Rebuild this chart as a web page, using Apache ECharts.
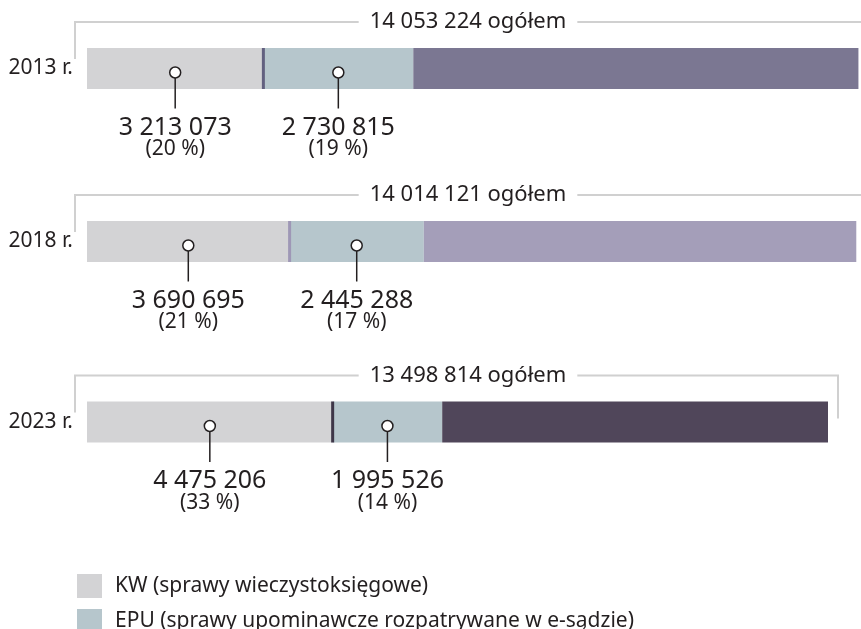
<!DOCTYPE html>
<html>
<head>
<meta charset="utf-8">
<script src="https://cdn.jsdelivr.net/npm/echarts@6/dist/echarts.min.js"></script>
<style>
  html, body { margin: 0; padding: 0; background: #fff; }
  #chart { width: 861px; height: 629px; }
</style>
</head>
<body>
<div id="chart"></div>
<script>
// dane
const years = ['2013 r.', '2018 r.', '2023 r.'];
const totals = [14053224, 14014121, 13498814];
const kwValues = [3213073, 3690695, 4475206];
const epuValues = [2730815, 2445288, 1995526];
const kwPct = [20, 21, 33];
const epuPct = [19, 17, 14];

const kwName = 'KW (sprawy wieczystoksięgowe)';
const epuName = 'EPU (sprawy upominawcze rozpatrywane w e-sądzie)';

// kolory
const kwColor = '#d3d3d5';
const epuColor = '#b6c6cc';
const restColors = ['#7b7792', '#a49eb9', '#50465a'];
const sepColors = ['#62607f', '#9e97b6', '#3e3648'];
const textColor = '#231f20';
const font = '"Noto Sans", sans-serif';

// środki pasków (px)
const barCenters = [68.5, 241.5, 422];

function fmt(n) {
  return String(n).replace(/\B(?=(\d{3})+(?!\d))/g, ' ');
}

function renderCallout(params, api) {
  const p = api.coord([api.value(0), 0]);
  const cx = p[0], cy = p[1] + 4;
  return {
    type: 'group',
    children: [
      { type: 'line', shape: { x1: cx, y1: cy + 5, x2: cx, y2: cy + 36 }, style: { stroke: textColor, lineWidth: 1.5 } },
      { type: 'circle', shape: { cx: cx, cy: cy, r: 5.5 }, style: { fill: '#fff', stroke: textColor, lineWidth: 1.5 } },
      { type: 'text', style: { text: fmt(api.value(2)), x: cx, y: cy + 55, align: 'center', verticalAlign: 'middle', font: '25px ' + font, fill: textColor } },
      { type: 'text', style: { text: '(' + api.value(3) + ' %)', x: cx, y: cy + 77, align: 'center', verticalAlign: 'middle', font: '21px ' + font, fill: textColor } }
    ]
  };
}

function renderBracket(params, api) {
  const p0 = api.coord([0, 0]);
  const p1 = api.coord([api.value(0), 0]);
  const W = api.getWidth();
  const x0 = p0[0] - 12;
  const x1 = p1[0] + 10;
  const top = p0[1] - 20.5 - 26;
  return {
    type: 'group',
    children: [
      { type: 'polyline', shape: { points: [[x0, top + 37], [x0, top], [x1, top], [x1, top + 43]] }, style: { stroke: '#d0d0d0', lineWidth: 2, fill: null } },
      { type: 'text', style: { text: fmt(api.value(0)) + ' ogółem', x: (x0 + W) / 2, y: top, align: 'center', verticalAlign: 'middle', font: '22px ' + font, fill: textColor, backgroundColor: '#fff', padding: [2, 11] } }
    ]
  };
}

const grids = [], xAxes = [], yAxes = [], series = [];
years.forEach(function (yr, i) {
  grids.push({ left: 87, right: 0, top: barCenters[i] - 30, height: 60 });
  xAxes.push({ gridIndex: i, type: 'value', min: 0, max: 14100000, show: false });
  yAxes.push({
    gridIndex: i, type: 'category', data: [yr],
    axisLine: { show: false }, axisTick: { show: false },
    axisLabel: { fontSize: 21, color: textColor, fontFamily: font, margin: 14 }
  });
  const rest = totals[i] - kwValues[i] - epuValues[i];
  const common = { type: 'bar', xAxisIndex: i, yAxisIndex: i, stack: 's' + i, barWidth: 41 };
  series.push(Object.assign({ name: kwName, data: [kwValues[i]], itemStyle: { color: kwColor } }, common));
  series.push(Object.assign({ name: epuName, data: [epuValues[i]], itemStyle: { color: epuColor } }, common));
  series.push(Object.assign({ name: 'pozostałe', data: [rest], itemStyle: { color: restColors[i] } }, common));
  // kreska oddzielająca KW od EPU
  series.push({
    type: 'custom', xAxisIndex: i, yAxisIndex: i, z: 3,
    encode: { x: 0, y: 1 }, data: [[kwValues[i], 0]],
    renderItem: (function (c) {
      return function (params, api) {
        const p = api.coord([api.value(0), 0]);
        return { type: 'rect', shape: { x: p[0] - 1.5, y: p[1] - 20.5, width: 3, height: 41 }, style: { fill: c } };
      };
    })(sepColors[i])
  });
  series.push({
    type: 'custom', xAxisIndex: i, yAxisIndex: i, z: 4,
    encode: { x: 0, y: 1 },
    data: [[kwValues[i] / 2, 0, kwValues[i], kwPct[i]], [kwValues[i] + epuValues[i] / 2, 0, epuValues[i], epuPct[i]]],
    renderItem: renderCallout
  });
  series.push({
    type: 'custom', xAxisIndex: i, yAxisIndex: i, z: 2,
    encode: { x: 0, y: 1 }, data: [[totals[i], 0]],
    renderItem: renderBracket
  });
});

const legendBase = {
  left: 72,
  icon: 'rect',
  itemWidth: 25, itemHeight: 24,
  selectedMode: false,
  textStyle: { fontSize: 21, color: textColor, fontFamily: font, padding: [0, 0, 0, 8] }
};

const chart = echarts.init(document.getElementById('chart'));
chart.setOption({
  animation: false,
  backgroundColor: '#fff',
  legend: [
    Object.assign({ data: [kwName], top: 569 }, legendBase),
    Object.assign({ data: [epuName], top: 604 }, legendBase)
  ],
  grid: grids,
  xAxis: xAxes,
  yAxis: yAxes,
  series: series
});
</script>
</body>
</html>
